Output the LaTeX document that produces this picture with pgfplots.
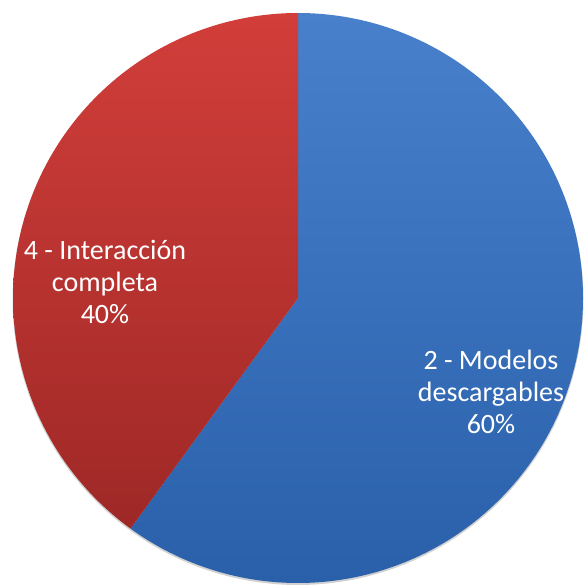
\documentclass[border=0pt]{standalone}
\usepackage{pgfplots}
\pgfplotsset{compat=1.18}
\usepackage{pgfplotstable}
\usepackage{fontspec}
\setmainfont{Carlito}
\definecolor{bluetop}{RGB}{72,128,204}
\definecolor{bluebot}{RGB}{42,96,170}
\definecolor{redtop}{RGB}{210,62,58}
\definecolor{redbot}{RGB}{158,40,38}
\pgfplotstableread{
label value
Modelos 60
Interaccion 40
}\piedata
\pgfplotstablegetelem{0}{value}\of\piedata\let\vA\pgfplotsretval
\pgfplotstablegetelem{1}{value}\of\piedata\let\vB\pgfplotsretval
\pgfmathtruncatemacro{\aStart}{90}
\pgfmathtruncatemacro{\aStartN}{89}
\pgfmathtruncatemacro{\aMid}{round(90-360*(\vA/(\vA+\vB)))}
\pgfmathtruncatemacro{\aMidN}{\aMid-1}
\pgfmathtruncatemacro{\aEnd}{round(\aMid-360*(\vB/(\vA+\vB)))}
\begin{document}
\begin{tikzpicture}
\begin{axis}[
  name=pie,
  scale only axis, width=581pt, height=587pt,
  xmin=0, xmax=581, ymin=0, ymax=587,
  hide axis, clip=false,
]
% soft shadow
\addplot[draw=none, fill=black, fill opacity=0.18,
  samples at={0,2,...,360}]
  ({298+285.5*cos(x)},{287.5+285.5*sin(x)});
% wedge 1 (blue)
\addplot[draw=none, top color=bluetop, bottom color=bluebot,
  samples at={\aStart,\aStartN,...,\aMid,\aMid,9999}]
  ({ifthenelse(x>9000,298,298+285*cos(x))},{ifthenelse(x>9000,289,289+285*sin(x))});
% wedge 2 (red)
\addplot[draw=none, top color=redtop, bottom color=redbot,
  samples at={\aMid,\aMidN,...,\aEnd,\aEnd,9999}]
  ({ifthenelse(x>9000,298,298+285*cos(x))},{ifthenelse(x>9000,289,289+285*sin(x))});
\node[text=white, align=center, font=\fontsize{28}{32}\selectfont] at (axis cs:105,305)
  {4 - Interacción\\completa\\40\%};
\node[text=white, align=center, font=\fontsize{28}{32}\selectfont] at (axis cs:491,195)
  {2 - Modelos\\descargables\\60\%};
\end{axis}
\useasboundingbox (pie.south west) rectangle (pie.north east);
\end{tikzpicture}
\end{document}
